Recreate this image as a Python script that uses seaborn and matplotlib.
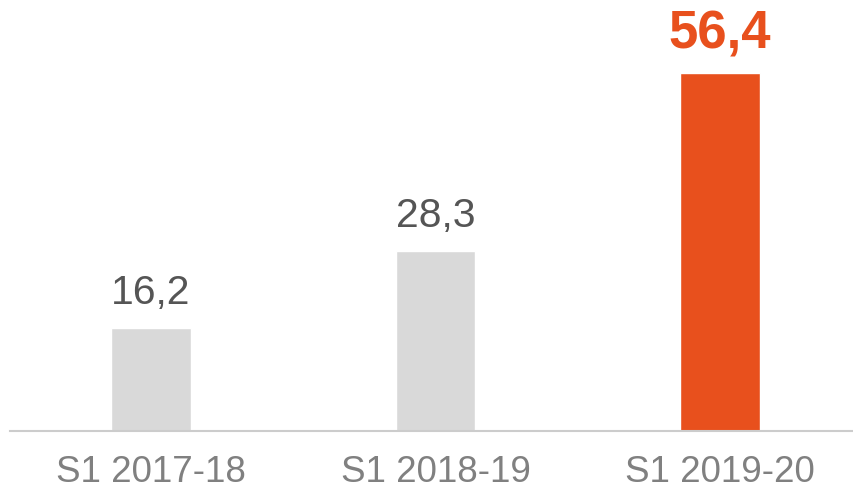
import matplotlib
matplotlib.use("Agg")
import matplotlib.pyplot as plt
import seaborn as sns
import pandas as pd

categories = ["S1 2017-18", "S1 2018-19", "S1 2019-20"]
values = [16.2, 28.3, 56.4]
value_labels = ["16,2", "28,3", "56,4"]
colors = ["#d9d9d9", "#d9d9d9", "#e8501d"]

sns.set_theme(style="white")
plt.rcParams["font.family"] = ["Liberation Sans", "DejaVu Sans"]

df = pd.DataFrame({"cat": categories, "val": values})

fig = plt.figure(figsize=(8.54, 4.93), dpi=100)
ax = fig.add_axes([10 / 854, 62 / 493, 844 / 854, 431 / 493])
sns.barplot(data=df, x="cat", y="val", hue="cat", palette=colors, legend=False,
            width=0.281, ax=ax, saturation=1)

ax.set_xlim(-0.4956, -0.4956 + 844 / 284.5)
ax.set_ylim(0, 431 / 6.35)
ax.set_xlabel("")
ax.set_ylabel("")
ax.set_yticks([])
for s in ["top", "left", "right"]:
    ax.spines[s].set_visible(False)
ax.spines["bottom"].set_color("#cccccc")
ax.spines["bottom"].set_linewidth(1.5)
ax.tick_params(axis="x", length=0, pad=17, labelsize=26.5, labelcolor="#808080")

for i, (v, lab) in enumerate(zip(values, value_labels)):
    last = i == len(values) - 1
    ax.annotate(lab, xy=(i, v), xytext=(0, 17.5), textcoords="offset points",
                ha="center", va="baseline",
                fontsize=38 if last else 29.5,
                fontweight="bold" if last else "normal",
                color=colors[i] if last else "#555555")

fig.savefig("out.png", dpi=100)
